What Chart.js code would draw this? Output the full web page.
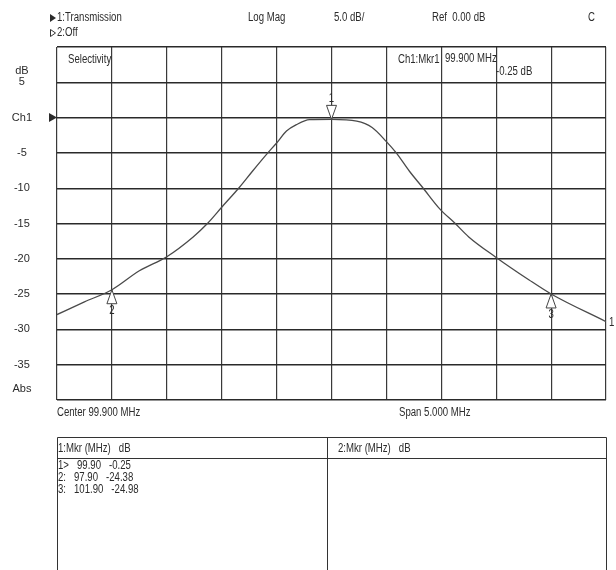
<!DOCTYPE html>
<html><head><meta charset="utf-8">
<script src="https://cdn.jsdelivr.net/npm/chart.js@4.4.1/dist/chart.umd.min.js"></script>
<style>html,body{margin:0;padding:0;background:#fff;}#wrap{width:616px;height:570px;}</style>
</head><body><div id="wrap"><canvas id="c" width="616" height="570"></canvas></div>
<script>
// ---- data ----
const freqMHz = [97.40, 97.65, 97.90, 98.15, 98.40, 98.64, 98.77, 98.90, 99.06, 99.18, 99.32, 99.40, 99.49, 99.58, 99.70, 99.90,
                 100.13, 100.27, 100.40, 100.49, 100.61, 100.73, 100.89, 101.02, 101.15, 101.39, 101.70, 101.90, 102.40];
const transmissionDb = [-27.9, -26.1, -24.38, -21.7, -19.7, -16.9, -15.0, -12.7, -9.9, -7.6, -5.0, -3.6, -1.9, -1.0, -0.3, -0.25,
                 -0.5, -1.4, -3.4, -5.0, -7.6, -9.9, -13.0, -14.9, -16.9, -19.7, -23.0, -24.98, -28.9];
const gridFreqs = [97.4, 97.9, 98.4, 98.9, 99.4, 99.9, 100.4, 100.9, 101.4, 101.9, 102.4];
const yTickValues = [-40, -35, -30, -25, -20, -15, -10, -5, 0, 5, 10];
const yTickLabels = [["Abs", "", ""], ["-35"], ["-30"], ["-25"], ["-20"], ["-15"], ["-10"], ["-5"], ["Ch1"], ["dB", "5", ""], [""]];
const markerNums = [1, 2, 3];
const markerFreqs = [99.90, 97.90, 101.90];
const markerDbs = [-0.25, -24.38, -24.98];
const headerLeft = ["1:Transmission", "2:Off"];
const headerRight = ["Log Mag", "5.0 dB/", "Ref  0.00 dB", "C"];
const selectivityTexts = ["Selectivity", "Ch1:Mkr1", "99.900 MHz", "-0.25 dB"];
const footerTexts = ["Center 99.900 MHz", "Span 5.000 MHz"];
const tableHeaders = ["1:Mkr (MHz)   dB", "2:Mkr (MHz)   dB"];

const FONT = '"Liberation Sans", Arial, sans-serif';
const TXT = '#2b2b2b';
const NARROW = 0.8;

function ntext(ctx, s, x, y, align) {
  ctx.save();
  ctx.translate(x, y);
  ctx.scale(NARROW, 1);
  ctx.textAlign = align || 'left';
  ctx.fillText(s, 0, 0);
  ctx.restore();
}

const overlay = {
  id: 'overlay',
  afterDraw(chart) {
    const ctx = chart.ctx, xs = chart.scales.x, ys = chart.scales.y, ca = chart.chartArea;
    ctx.save();
    ctx.fillStyle = TXT; ctx.strokeStyle = '#333';
    ctx.font = '12px ' + FONT; ctx.textBaseline = 'middle'; ctx.textAlign = 'left';
    // header
    ctx.beginPath(); ctx.moveTo(50, 14); ctx.lineTo(56, 18); ctx.lineTo(50, 22); ctx.closePath(); ctx.fill();
    ntext(ctx, headerLeft[0], 57, 18);
    ctx.lineWidth = 1;
    ctx.beginPath(); ctx.moveTo(50.5, 29.5); ctx.lineTo(55.5, 33); ctx.lineTo(50.5, 36.5); ctx.closePath(); ctx.stroke();
    ntext(ctx, headerLeft[1], 57, 33);
    ntext(ctx, headerRight[0], 248, 18);
    ntext(ctx, headerRight[1], 334, 18);
    ntext(ctx, headerRight[2], 432, 18);
    ntext(ctx, headerRight[3], 588, 18);
    // selectivity row
    ntext(ctx, selectivityTexts[0], 68, 60);
    ntext(ctx, selectivityTexts[1], 398, 60);
    ntext(ctx, selectivityTexts[2], 445, 59);
    ntext(ctx, selectivityTexts[3], 496, 72);
    // Ch1 reference arrow
    const y0 = ys.getPixelForValue(0);
    ctx.beginPath(); ctx.moveTo(49, y0 - 4.5); ctx.lineTo(57, y0); ctx.lineTo(49, y0 + 4.5); ctx.closePath(); ctx.fill();
    // trace number at right end
    const lastY = ys.getPixelForValue(transmissionDb[transmissionDb.length - 1]);
    ntext(ctx, "1", ca.right + 3, lastY + 1);
    // markers
    for (let i = 0; i < markerNums.length; i++) {
      const px = xs.getPixelForValue(markerFreqs[i]), py = ys.getPixelForValue(markerDbs[i]);
      const above = i === 0;
      const d = above ? -1 : 1;
      ctx.beginPath(); ctx.moveTo(px, py); ctx.lineTo(px - 5, py + d * 14); ctx.lineTo(px + 5, py + d * 14); ctx.closePath();
      ctx.fillStyle = '#fff'; ctx.fill(); ctx.lineWidth = 1; ctx.strokeStyle = '#444'; ctx.stroke();
      ctx.fillStyle = TXT;
      ntext(ctx, String(markerNums[i]), px, py + d * 21, 'center');
    }
    // footer
    ntext(ctx, footerTexts[0], 57, 413);
    ntext(ctx, footerTexts[1], 399, 413);
    // marker table
    ctx.strokeStyle = '#333'; ctx.lineWidth = 1;
    ctx.beginPath();
    ctx.moveTo(57.5, 572); ctx.lineTo(57.5, 437.5); ctx.lineTo(606.5, 437.5); ctx.lineTo(606.5, 572);
    ctx.moveTo(57.5, 458.5); ctx.lineTo(606.5, 458.5);
    ctx.moveTo(327.5, 437.5); ctx.lineTo(327.5, 572);
    ctx.stroke();
    ntext(ctx, tableHeaders[0], 58, 449);
    ntext(ctx, tableHeaders[1], 338, 449);
    for (let i = 0; i < markerNums.length; i++) {
      const sep = i === 0 ? '>' : ':';
      const line = markerNums[i] + sep + '   ' + markerFreqs[i].toFixed(2) + '   ' + markerDbs[i].toFixed(2);
      ntext(ctx, line, 58, 466 + i * 12);
    }
    ctx.restore();
  }
};

new Chart(document.getElementById('c'), {
  type: 'line',
  data: {
    datasets: [{
      label: 'Transmission',
      data: freqMHz.map((f, i) => ({ x: f, y: transmissionDb[i] })),
      borderColor: '#4a4a4a', borderWidth: 1.3, pointRadius: 0,
      cubicInterpolationMode: 'monotone', fill: false
    }]
  },
  options: {
    responsive: false, animation: false, devicePixelRatio: 1,
    layout: { padding: { left: 0, top: 47, right: 10, bottom: 170 } },
    plugins: { legend: { display: false }, tooltip: { enabled: false } },
    scales: {
      x: {
        type: 'linear', min: 97.4, max: 102.4,
        afterBuildTicks: s => { s.ticks = gridFreqs.map(v => ({ value: v })); },
        afterFit: s => { s.height = 0; },
        grid: { color: '#3a3a3a', lineWidth: 1.2, drawTicks: false },
        border: { display: false },
        ticks: { display: false }
      },
      y: {
        type: 'linear', min: -40, max: 10,
        afterBuildTicks: s => { s.ticks = yTickValues.map(v => ({ value: v })); },
        afterFit: s => { s.width = 57; },
        grid: { color: '#2a2a2a', lineWidth: 1.4, drawTicks: false },
        border: { display: false },
        ticks: {
          autoSkip: false, crossAlign: 'center', padding: 25, color: TXT,
          font: { family: FONT, size: 11, lineHeight: 1.0 },
          callback: (v) => yTickLabels[yTickValues.indexOf(v)]
        }
      }
    }
  },
  plugins: [overlay]
});
</script></body></html>
